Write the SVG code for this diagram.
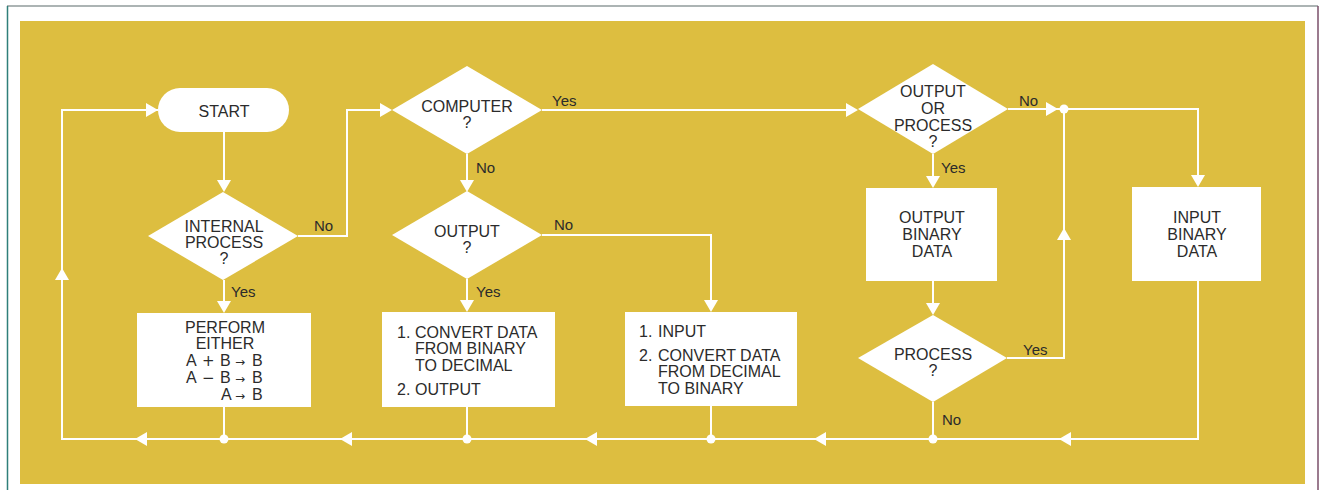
<svg xmlns="http://www.w3.org/2000/svg" xmlns:xlink="http://www.w3.org/1999/xlink" width="1322" height="490" viewBox="0 0 1322 490">
<style>
.bg{fill:#DDBE40}
.shape{fill:#ffffff;stroke:none}
.t{font-family:"Liberation Sans",Arial,sans-serif;font-size:16px;fill:#2b2b2b;text-anchor:middle}
.tl{font-family:"Liberation Sans",Arial,sans-serif;font-size:16px;fill:#2b2b2b}
.lab{font-family:"Liberation Sans",Arial,sans-serif;font-size:15px;fill:#2b2b2b}
.sm{font-family:"DejaVu Sans",sans-serif;font-size:12px}
.op{font-family:"DejaVu Sans",sans-serif;font-size:15px}
.c{fill:none;stroke:#ffffff;stroke-width:2}
.ah{fill:#ffffff}
.dot{fill:#ffffff}
</style>
<defs>
<path id="ah" d="M0,0 L-12,-7 L-12,7 Z" class="ah"/>
</defs>
<rect x="0" y="0" width="1322" height="490" fill="#ffffff"/>
<line x1="7" y1="6" x2="1318" y2="6" stroke="#5a6a6a" stroke-width="1.2"/>
<line x1="7.5" y1="6" x2="7.5" y2="490" stroke="#2f7f7a" stroke-width="1.5"/>
<line x1="1318" y1="6" x2="1318" y2="490" stroke="#7a4f6a" stroke-width="1.5"/>
<rect class="bg" x="20" y="21" width="1285" height="463"/>

<g id="connectors">
<polyline class="c" points="1198,281 1198,439 62,439 62,110 158,110"/>
<use xlink:href="#ah" transform="translate(158,110)"/>
<use xlink:href="#ah" transform="translate(62,268) rotate(-90)"/>
<use xlink:href="#ah" transform="translate(1059,439) rotate(180)"/>
<use xlink:href="#ah" transform="translate(814,439) rotate(180)"/>
<use xlink:href="#ah" transform="translate(585,439) rotate(180)"/>
<use xlink:href="#ah" transform="translate(340,439) rotate(180)"/>
<use xlink:href="#ah" transform="translate(135,439) rotate(180)"/>

<line class="c" x1="224" y1="132" x2="224" y2="186"/>
<use xlink:href="#ah" transform="translate(224,192) rotate(90)"/>

<polyline class="c" points="298,236 347,236 347,110 386,110"/>
<use xlink:href="#ah" transform="translate(392,110)"/>

<line class="c" x1="224" y1="280" x2="224" y2="307"/>
<use xlink:href="#ah" transform="translate(224,313) rotate(90)"/>

<line class="c" x1="224" y1="407" x2="224" y2="439"/>
<circle class="dot" cx="224" cy="439" r="4.5"/>

<line class="c" x1="467" y1="154" x2="467" y2="186"/>
<use xlink:href="#ah" transform="translate(467,192) rotate(90)"/>

<line class="c" x1="542" y1="110" x2="852" y2="110"/>
<use xlink:href="#ah" transform="translate(858,110)"/>

<line class="c" x1="467" y1="279" x2="467" y2="306"/>
<use xlink:href="#ah" transform="translate(467,312) rotate(90)"/>

<polyline class="c" points="542,235 711,235 711,306"/>
<use xlink:href="#ah" transform="translate(711,312) rotate(90)"/>

<line class="c" x1="467" y1="407" x2="467" y2="439"/>
<circle class="dot" cx="467" cy="439" r="4.5"/>
<line class="c" x1="711" y1="406" x2="711" y2="439"/>
<circle class="dot" cx="711" cy="439" r="4.5"/>

<line class="c" x1="1008" y1="109" x2="1064" y2="109"/>
<use xlink:href="#ah" transform="translate(1058,109)"/>
<circle class="dot" cx="1064" cy="109" r="4.5"/>
<polyline class="c" points="1064,109 1198,109 1198,181"/>
<use xlink:href="#ah" transform="translate(1198,187) rotate(90)"/>

<line class="c" x1="933" y1="154" x2="933" y2="182"/>
<use xlink:href="#ah" transform="translate(933,188) rotate(90)"/>

<line class="c" x1="933" y1="281" x2="933" y2="309"/>
<use xlink:href="#ah" transform="translate(933,315) rotate(90)"/>

<polyline class="c" points="1007,358 1064,358 1064,109"/>
<use xlink:href="#ah" transform="translate(1064,228) rotate(-90)"/>

<line class="c" x1="933" y1="402" x2="933" y2="439"/>
<circle class="dot" cx="933" cy="439" r="4.5"/>

<text class="lab" x="314" y="231">No</text>
<text class="lab" x="231" y="297">Yes</text>
<text class="lab" x="552" y="106">Yes</text>
<text class="lab" x="476" y="173">No</text>
<text class="lab" x="554" y="230">No</text>
<text class="lab" x="476" y="297">Yes</text>
<text class="lab" x="1019" y="106">No</text>
<text class="lab" x="941" y="173">Yes</text>
<text class="lab" x="1023" y="355">Yes</text>
<text class="lab" x="942" y="425">No</text>
</g>

<g id="start">
<rect class="shape" x="158" y="88" width="131" height="44" rx="22"/>
<text class="t" x="224" y="117">START</text>
</g>

<g id="internal-process">
<polygon class="shape" points="223,192 298,236 223,280 148,236"/>
<text class="t" x="224" y="232">INTERNAL</text>
<text class="t" x="224" y="248">PROCESS</text>
<text class="t" x="224" y="264">?</text>
</g>

<g id="perform">
<rect class="shape" x="137" y="313" width="174" height="94"/>
<text class="t" x="225" y="333">PERFORM</text>
<text class="t" x="225" y="349">EITHER</text>
<text class="tl" y="366"><tspan x="186">A</tspan><tspan x="202" class="op">+</tspan><tspan x="220">B</tspan><tspan x="235" class="sm">→</tspan><tspan x="252">B</tspan></text>
<text class="tl" y="383"><tspan x="186">A</tspan><tspan x="202" class="op">−</tspan><tspan x="220">B</tspan><tspan x="235" class="sm">→</tspan><tspan x="252">B</tspan></text>
<text class="tl" y="400"><tspan x="221">A</tspan><tspan x="235" class="sm">→</tspan><tspan x="252">B</tspan></text>
</g>

<g id="computer">
<polygon class="shape" points="467,66 542,110 467,154 392,110"/>
<text class="t" x="467" y="112">COMPUTER</text>
<text class="t" x="467" y="128">?</text>
</g>

<g id="output-q">
<polygon class="shape" points="467,191 542,235 467,279 392,235"/>
<text class="t" x="467" y="237">OUTPUT</text>
<text class="t" x="467" y="253">?</text>
</g>

<g id="convert-to-decimal">
<rect class="shape" x="382" y="312" width="173" height="95"/>
<text class="tl" x="397" y="338">1.</text>
<text class="tl" x="415" y="338">CONVERT DATA</text>
<text class="tl" x="415" y="354">FROM BINARY</text>
<text class="tl" x="415" y="371">TO DECIMAL</text>
<text class="tl" x="397" y="395">2.</text>
<text class="tl" x="415" y="395">OUTPUT</text>
</g>

<g id="input-convert">
<rect class="shape" x="625" y="312" width="172" height="94"/>
<text class="tl" x="639" y="337">1.</text>
<text class="tl" x="658" y="337">INPUT</text>
<text class="tl" x="639" y="361">2.</text>
<text class="tl" x="658" y="361">CONVERT DATA</text>
<text class="tl" x="658" y="377">FROM DECIMAL</text>
<text class="tl" x="658" y="394">TO BINARY</text>
</g>

<g id="output-or-process">
<polygon class="shape" points="933,64 1008,109 933,154 858,109"/>
<text class="t" x="933" y="97">OUTPUT</text>
<text class="t" x="933" y="114">OR</text>
<text class="t" x="933" y="131">PROCESS</text>
<text class="t" x="933" y="147">?</text>
</g>

<g id="output-binary">
<rect class="shape" x="866" y="188" width="131" height="93"/>
<text class="t" x="932" y="223">OUTPUT</text>
<text class="t" x="932" y="240">BINARY</text>
<text class="t" x="932" y="257">DATA</text>
</g>

<g id="process-q">
<polygon class="shape" points="933,315 1007,358 933,402 858,358"/>
<text class="t" x="933" y="360">PROCESS</text>
<text class="t" x="933" y="376">?</text>
</g>

<g id="input-binary">
<rect class="shape" x="1132" y="187" width="129" height="94"/>
<text class="t" x="1197" y="223">INPUT</text>
<text class="t" x="1197" y="240">BINARY</text>
<text class="t" x="1197" y="257">DATA</text>
</g>
</svg>
